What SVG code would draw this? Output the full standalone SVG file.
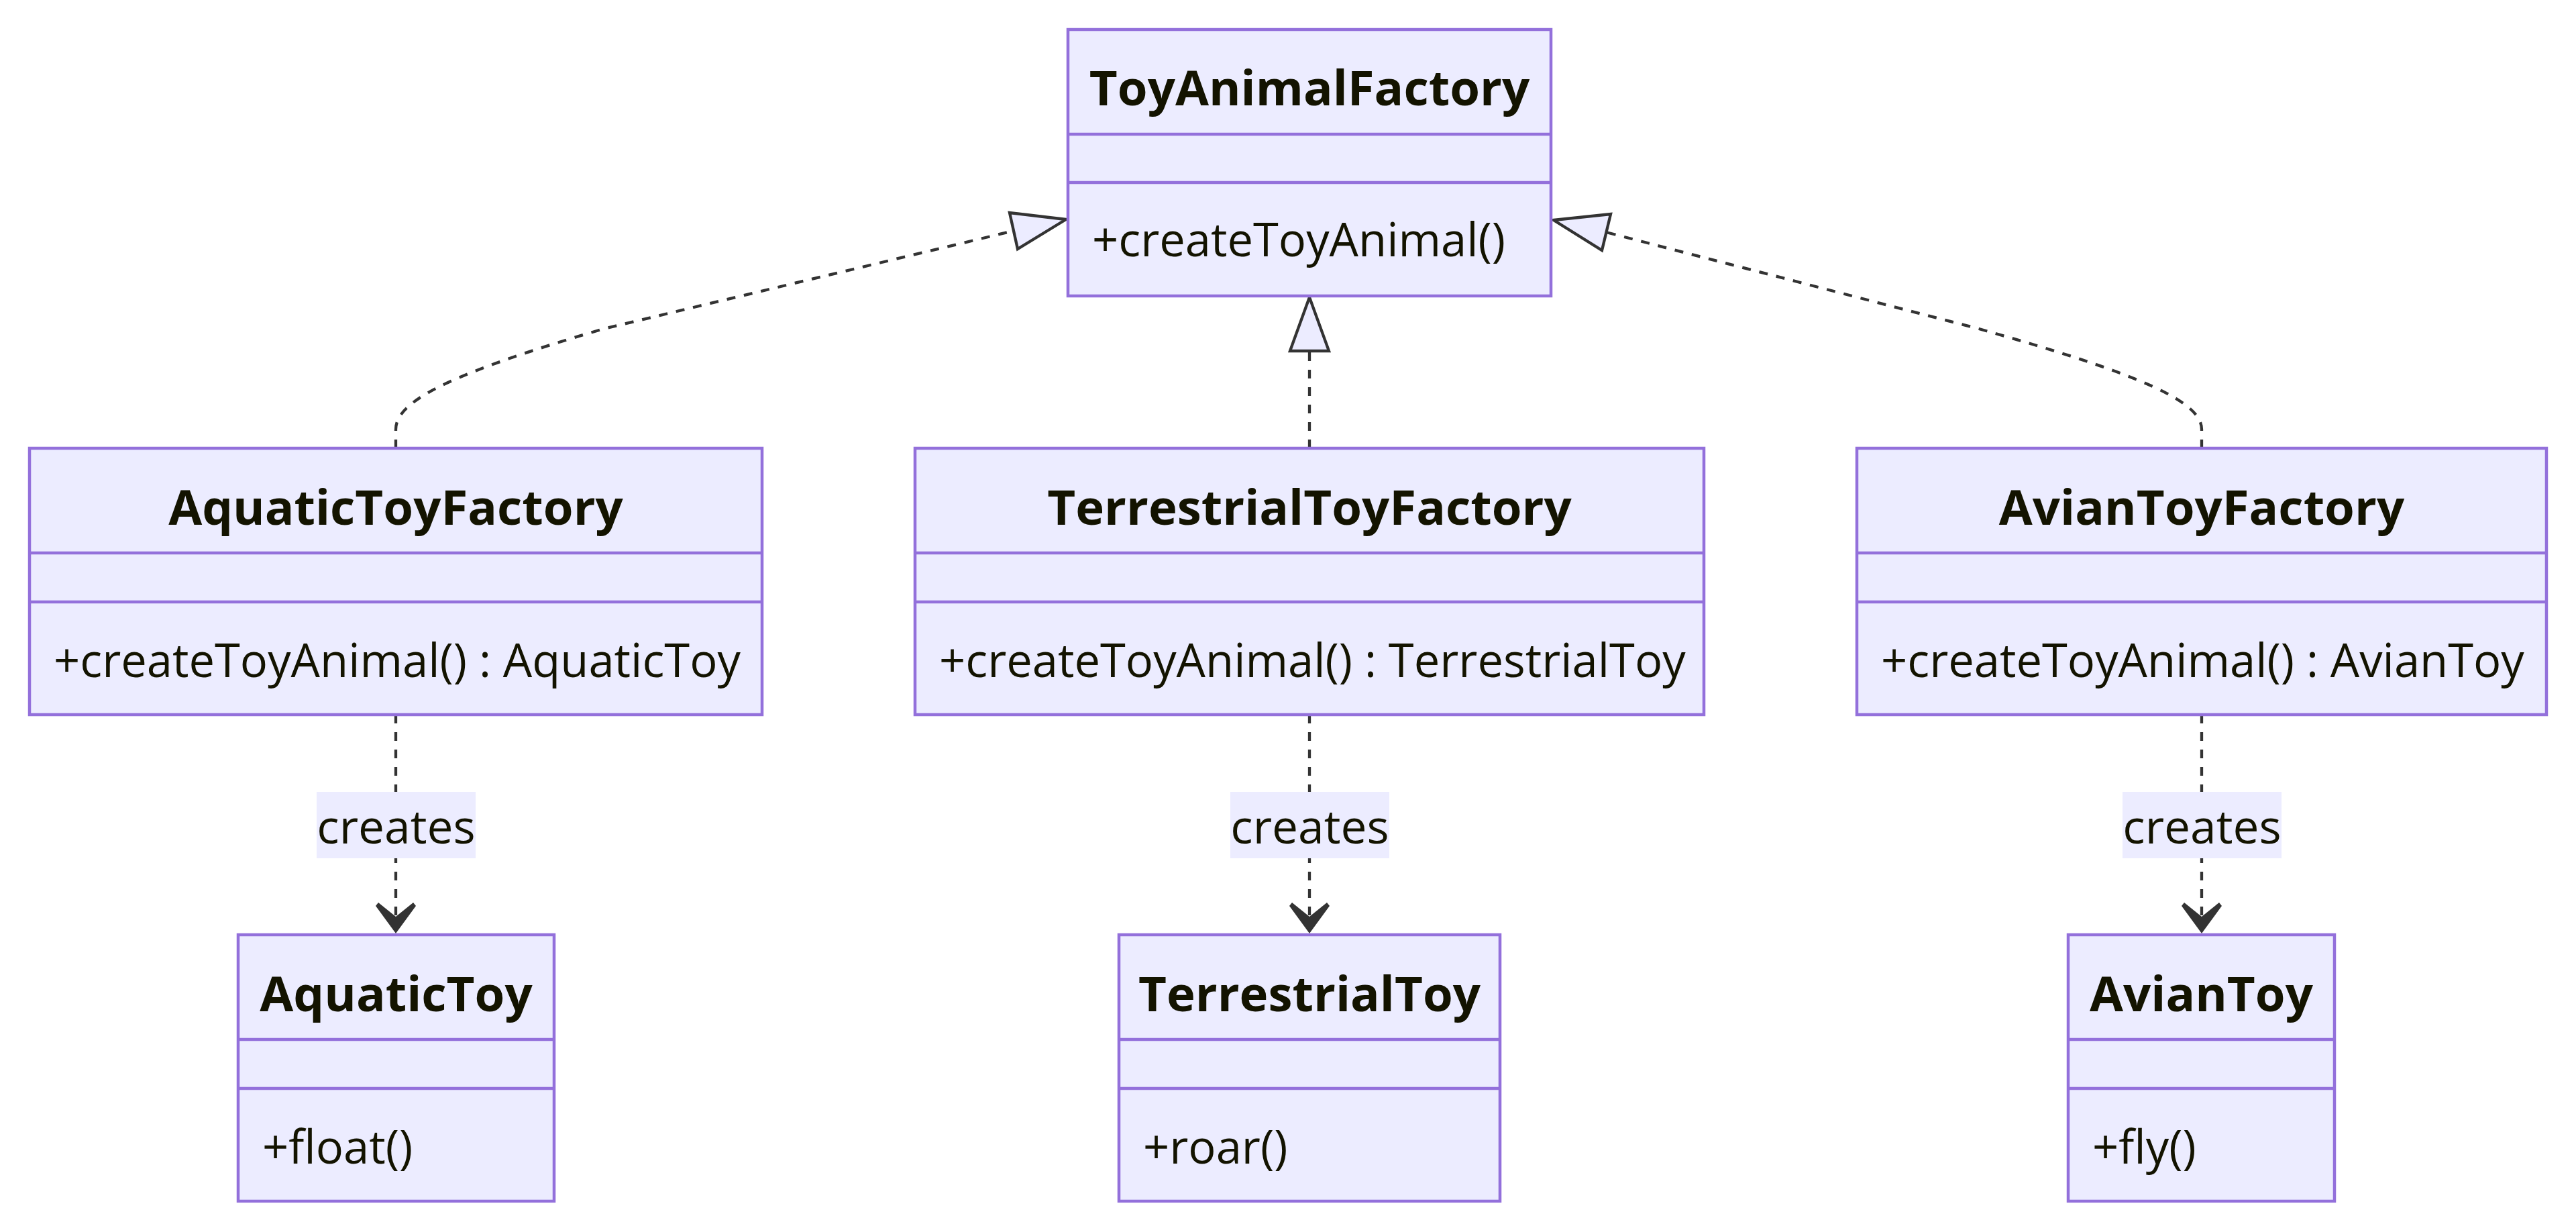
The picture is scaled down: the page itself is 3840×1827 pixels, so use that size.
<svg xmlns="http://www.w3.org/2000/svg" width="3840" height="1827" viewBox="0 0 3840 1827">
<style>
.box{fill:#ECECFF;stroke:#9370DB;stroke-width:4.5}
.div{stroke:#9370DB;stroke-width:4.5}
.t{font-family:"Open Sans","Noto Sans",sans-serif;font-size:68.7px;fill:#131300}
.b{font-weight:bold;text-anchor:middle;font-size:72.5px}
.c{text-anchor:middle;font-size:69.5px}
.edge{fill:none;stroke:#333333;stroke-width:4.3;stroke-dasharray:13 13}
.tri{fill:#ECECFF;stroke:#333333;stroke-width:4.3;stroke-linejoin:miter}
.dep{fill:#333333;stroke:none}
.lbl{fill:#ECECFF}
</style>
<rect width="3840" height="1827" fill="#ffffff"/>
<g id="connectors">
  <path class="edge" d="M590,668 L590,640 C590,600 660,560 900,490 L1511,344"/>
  <path class="edge" d="M1952,668 L1952,523"/>
  <path class="edge" d="M3282,668 L3282,640 C3282,600 3200,560 2950,490 L2394,346"/>
  <polygon class="tri" points="1589,327 1505,317 1517,371"/>
  <polygon class="tri" points="1952,443 1923,523 1981,523"/>
  <polygon class="tri" points="2316,328 2401,319 2388,373"/>
  <path class="edge" d="M590,1065 L590,1366"/>
  <path class="edge" d="M1952,1065 L1952,1366"/>
  <path class="edge" d="M3282,1065 L3282,1366"/>
  <path class="dep" d="M590,1391 L560,1350 L564,1345 L590,1366 L616,1345 L620,1350 Z"/>
  <path class="dep" d="M1952,1391 L1922,1350 L1926,1345 L1952,1366 L1978,1345 L1982,1350 Z"/>
  <path class="dep" d="M3282,1391 L3252,1350 L3256,1345 L3282,1366 L3308,1345 L3312,1350 Z"/>
  <rect class="lbl" x="472" y="1180" width="237" height="99"/>
  <text class="t c" x="590.5" y="1257">creates</text>
  <rect class="lbl" x="1834" y="1180" width="237" height="99"/>
  <text class="t c" x="1952.5" y="1257">creates</text>
  <rect class="lbl" x="3164" y="1180" width="237" height="99"/>
  <text class="t c" x="3282.5" y="1257">creates</text>
</g>
<g id="ToyAnimalFactory">
  <rect class="box" x="1592" y="44" width="720" height="397"/>
  <line class="div" x1="1592" y1="200" x2="2312" y2="200"/>
  <line class="div" x1="1592" y1="272" x2="2312" y2="272"/>
  <text class="t b" x="1952" y="157">ToyAnimalFactory</text>
  <text class="t" x="1628" y="382">+createToyAnimal()</text>
</g>
<g id="AquaticToyFactory">
  <rect class="box" x="44" y="668" width="1092" height="397"/>
  <line class="div" x1="44" y1="824" x2="1136" y2="824"/>
  <line class="div" x1="44" y1="897" x2="1136" y2="897"/>
  <text class="t b" x="590" y="782">AquaticToyFactory</text>
  <text class="t" x="80" y="1009">+createToyAnimal() : AquaticToy</text>
</g>
<g id="TerrestrialToyFactory">
  <rect class="box" x="1364" y="668" width="1176" height="397"/>
  <line class="div" x1="1364" y1="824" x2="2540" y2="824"/>
  <line class="div" x1="1364" y1="897" x2="2540" y2="897"/>
  <text class="t b" x="1952" y="782">TerrestrialToyFactory</text>
  <text class="t" x="1400" y="1009">+createToyAnimal() : TerrestrialToy</text>
</g>
<g id="AvianToyFactory">
  <rect class="box" x="2768" y="668" width="1028" height="397"/>
  <line class="div" x1="2768" y1="824" x2="3796" y2="824"/>
  <line class="div" x1="2768" y1="897" x2="3796" y2="897"/>
  <text class="t b" x="3282" y="782">AvianToyFactory</text>
  <text class="t" x="2804" y="1009">+createToyAnimal() : AvianToy</text>
</g>
<g id="AquaticToy">
  <rect class="box" x="355" y="1393" width="471" height="397"/>
  <line class="div" x1="355" y1="1549" x2="826" y2="1549"/>
  <line class="div" x1="355" y1="1622" x2="826" y2="1622"/>
  <text class="t b" x="590.5" y="1507">AquaticToy</text>
  <text class="t" x="391" y="1734">+float()</text>
</g>
<g id="TerrestrialToy">
  <rect class="box" x="1668" y="1393" width="568" height="397"/>
  <line class="div" x1="1668" y1="1549" x2="2236" y2="1549"/>
  <line class="div" x1="1668" y1="1622" x2="2236" y2="1622"/>
  <text class="t b" x="1952" y="1507">TerrestrialToy</text>
  <text class="t" x="1704" y="1734">+roar()</text>
</g>
<g id="AvianToy">
  <rect class="box" x="3083" y="1393" width="397" height="397"/>
  <line class="div" x1="3083" y1="1549" x2="3480" y2="1549"/>
  <line class="div" x1="3083" y1="1622" x2="3480" y2="1622"/>
  <text class="t b" x="3281.5" y="1507">AvianToy</text>
  <text class="t" x="3119" y="1734">+fly()</text>
</g>
</svg>
